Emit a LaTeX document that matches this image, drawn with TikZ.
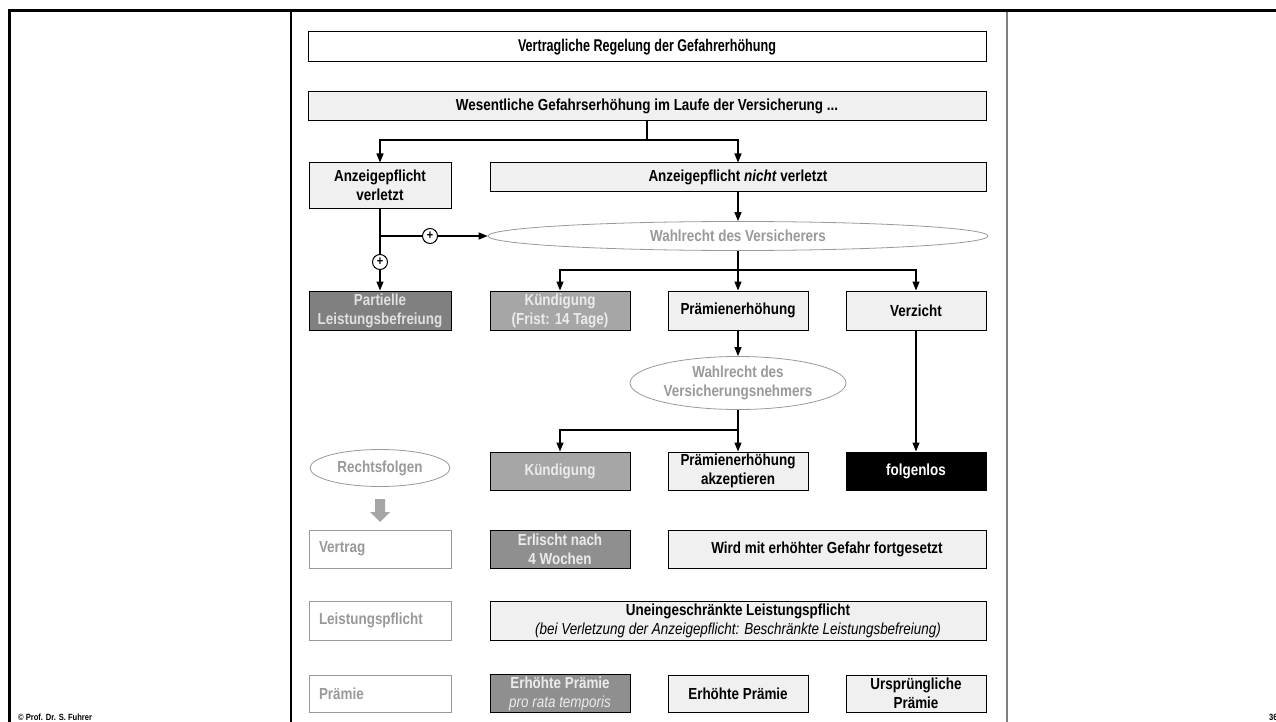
\documentclass[tikz,border=0pt]{standalone}
\usepackage{fontspec}
\setmainfont[FakeStretch=0.84]{Liberation Sans}
\newfontfamily\titlefont[FakeStretch=0.74]{Liberation Sans}
\usetikzlibrary{arrows.meta,shapes.geometric}
\definecolor{cLite}{HTML}{F0F0F0}
\definecolor{cDark}{HTML}{808080}
\definecolor{cMid}{HTML}{A6A6A6}
\definecolor{cMidB}{HTML}{8F8F8F}
\definecolor{cGrey}{HTML}{999999}
\definecolor{cFrame}{HTML}{7F7F7F}
\tikzset{
  blk/.style={draw, line width=1pt, align=center, inner sep=2pt,
              font=\fontsize{16}{19}\selectfont\bfseries},
  lite/.style={blk, fill=cLite},
  dark/.style={blk, fill=cDark, text=white!88!black},
  mid/.style={blk, fill=cMid, text=white!92!black},
  midb/.style={blk, fill=cMidB, text=white!92!black},
  blackb/.style={blk, fill=black, text=white},
  lab/.style={blk, draw=cGrey, fill=white, text=cGrey, align=left,
              text width=122pt, inner xsep=10pt},
  ell/.style={ellipse, draw=cGrey, line width=0.8pt, fill=white, inner sep=0pt,
              align=center, text=cGrey, font=\fontsize{16}{19}\selectfont\bfseries},
  plus/.style={circle, draw, line width=1pt, fill=white, inner sep=0pt,
               minimum size=15pt, font=\fontsize{13}{13}\selectfont\bfseries},
  ln/.style={line width=1.3pt},
  ar/.style={-{Triangle[length=9pt,width=7pt]}, line width=1.3pt},
}

\begin{document}
\begin{tikzpicture}[x=1pt,y=-1pt]
  \useasboundingbox (0,0) rectangle (1276,722);
  % page frame
  \draw[line width=3pt] (8,11) -- (1276,11);
  \draw[line width=3pt] (9,11) -- (9,722);
  \draw[line width=1.2pt] (291,12) -- (291,722);
  \draw[line width=1.6pt, cFrame] (1007,12) -- (1007,722);

  \node[blk, fill=white, minimum width=678pt, minimum height=30pt,
        font=\titlefont\fontsize{17}{20}\selectfont\bfseries] (title) at (647,47)
    {Vertragliche Regelung der Gefahrerhöhung};
  \node[lite, minimum width=678pt, minimum height=29pt] (wes) at (647,106.5)
    {Wesentliche Gefahrserhöhung im Laufe der Versicherung ...};

  \node[lite, minimum width=142pt, minimum height=45pt] (anzv) at (380,185.5)
    {Anzeigepflicht\\verletzt};
  \node[lite, minimum width=496pt, minimum height=29pt] (anzn) at (738,177.5)
    {Anzeigepflicht \textit{nicht} verletzt};
  \node[ell, minimum width=500pt, minimum height=29pt] (wahl1) at (738,236)
    {Wahlrecht des Versicherers};

  \node[dark, minimum width=142pt, minimum height=39pt] (partiell) at (380,310.5)
    {Partielle\\Leistungsbefreiung};
  \node[mid, minimum width=140pt, minimum height=39pt] (kuend1) at (560,310.5)
    {Kündigung\\(Frist: 14 Tage)};
  \node[lite, minimum width=140pt, minimum height=39pt] (praem) at (738,310.5)
    {Prämienerhöhung};
  \node[lite, minimum width=140pt, minimum height=39pt] (verz) at (916,310.5)
    {Verzicht};

  \node[ell, minimum width=216pt, minimum height=53pt] (wahl2) at (738,383)
    {Wahlrecht des\\Versicherungsnehmers};

  \node[ell, minimum width=140pt, minimum height=37pt] (rechts) at (380,468)
    {Rechtsfolgen};
  \node[mid, minimum width=140pt, minimum height=38pt] (kuend2) at (560,471)
    {Kündigung};
  \node[lite, minimum width=140pt, minimum height=38pt] (akz) at (738,471)
    {Prämienerhöhung\\akzeptieren};
  \node[blackb, minimum width=140pt, minimum height=38pt] (folg) at (916,471)
    {folgenlos};

  \fill[cMid] (375,499) -- (385,499) -- (385,512) -- (390,512) -- (380,522)
    -- (370,512) -- (375,512) -- cycle;

  \node[lab, minimum height=38pt] (vertrag) at (380,549) {Vertrag};
  \node[midb, minimum width=140pt, minimum height=38pt] (erl) at (560,549)
    {Erlischt nach\\4 Wochen};
  \node[lite, minimum width=318pt, minimum height=38pt] (wird) at (827,549)
    {Wird mit erhöhter Gefahr fortgesetzt};

  \node[lab, minimum height=39pt] (leist) at (380,620.5) {Leistungspflicht};
  \node[lite, minimum width=496pt, minimum height=39pt] (unein) at (738,620.5)
    {Uneingeschränkte Leistungspflicht\\
     \mdseries\itshape (bei Verletzung der Anzeigepflicht: Beschränkte Leistungsbefreiung)};

  \node[lab, minimum height=37pt] (praemie) at (380,693.5) {Prämie};
  \node[midb, minimum width=140pt, minimum height=37pt] (erhpr) at (560,693.5)
    {Erhöhte Prämie\\\mdseries\itshape pro rata temporis};
  \node[lite, minimum width=140pt, minimum height=37pt] (erh) at (738,693.5)
    {Erhöhte Prämie};
  \node[lite, minimum width=140pt, minimum height=37pt] (urspr) at (916,693.5)
    {Ursprüngliche\\Prämie};

  % connectors
  \coordinate (j1) at (647,140);
  \draw[ln] (wes.south) -- (j1);
  \draw[ar] (j1) -| (anzv.north);
  \draw[ar] (j1) -| (anzn.north);
  \draw[ar] (anzn.south) -- (wahl1.north);

  \coordinate (j2) at (380,236);
  \draw[ar] (anzv.south) -- (partiell.north);
  \draw[ar] (j2) -- (wahl1.west);
  \node[plus] (plush) at (430,236) {+};
  \node[plus] (plusv) at (380,262) {+};

  \coordinate (j3) at (738,270);
  \draw[ln] (wahl1.south) -- (j3);
  \draw[ar] (j3) -| (kuend1.north);
  \draw[ar] (j3) -- (praem.north);
  \draw[ar] (j3) -| (verz.north);

  \draw[ar] (praem.south) -- (wahl2.north);
  \coordinate (j4) at (738,430);
  \draw[ln] (wahl2.south) -- (j4);
  \draw[ar] (j4) -| (kuend2.north);
  \draw[ar] (j4) -- (akz.north);
  \draw[ar] (verz.south) -- (folg.north);

  % footer
  \node[anchor=west, inner sep=0pt, font=\fontsize{9}{9}\selectfont\bfseries] (copy)
    at (18,717) {© Prof. Dr. S. Fuhrer};
  \node[anchor=west, inner sep=0pt, font=\fontsize{9}{9}\selectfont\bfseries] (page)
    at (1269,717) {36};
\end{tikzpicture}
\end{document}
